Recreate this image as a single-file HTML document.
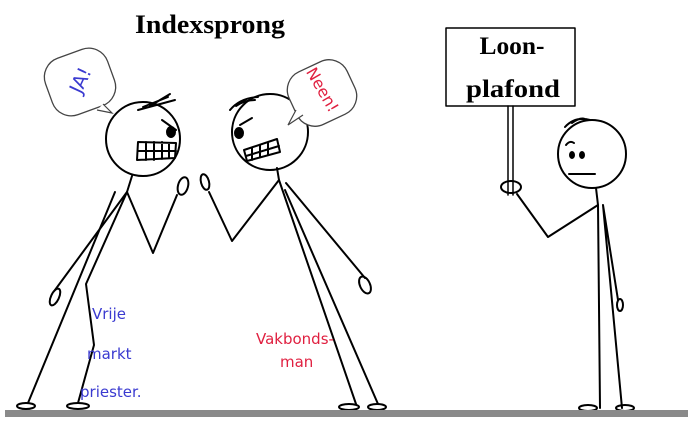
<!DOCTYPE html>
<html><head><meta charset="utf-8"><style>
html,body{margin:0;padding:0;background:#fff;}
svg{display:block;}
.t{font-family:"Liberation Serif",serif;font-weight:bold;fill:#000;}
.b{font-family:"DejaVu Sans","Liberation Sans",sans-serif;font-size:15px;fill:#3a3ad0;}
.r{font-family:"DejaVu Sans","Liberation Sans",sans-serif;font-size:15px;fill:#e02040;}
</style></head><body>
<svg width="688" height="434" viewBox="0 0 688 434" xmlns="http://www.w3.org/2000/svg">
<rect width="688" height="434" fill="#fff"/>
<text class="t" x="210" y="33" font-size="26" text-anchor="middle" textLength="150" lengthAdjust="spacingAndGlyphs">Indexsprong</text>
<g stroke="#000" stroke-width="2" fill="none" stroke-linecap="round" stroke-linejoin="round">
<circle cx="143" cy="139" r="37"/>
<path d="M138 110 L175 100 M143 107 L168 97 M150 106 L170 94"/>
<path d="M162 120 L176 130"/><ellipse cx="171" cy="132" rx="4" ry="5" fill="#000"/>
<path d="M138 142 L176 143 L175 158 L137 160 Z M138 151 L176 151 M146 142 V160 M154 142 V160 M162 142 V159 M169 143 V158"/>
<path d="M132 176 L127 192 L153 253 L177 195"/>
<ellipse cx="183" cy="186" rx="5" ry="9" transform="rotate(15 183 186)"/>
<path d="M127 192 L55 290"/>
<ellipse cx="55" cy="297" rx="4" ry="9" transform="rotate(25 55 297)"/>
<path d="M115 192 L28 403 M127 192 L86 284 L94 345 L78 403"/>
<ellipse cx="26" cy="406" rx="9" ry="3"/><ellipse cx="78" cy="406" rx="11" ry="3"/>
<circle cx="270" cy="132" r="38"/>
<path d="M230 110 Q240 98 258 97 M236 106 Q245 100 255 100"/>
<path d="M240 125 L252 118"/><ellipse cx="239" cy="133" rx="4" ry="5" fill="#000"/>
<path d="M244 150 L277 139 L280 152 L247 161 Z M246 156 L279 146 M252 148 V160 M260 145 V157 M268 142 V155"/>
<path d="M277 168 L279 180 L232 241 L209 192"/>
<ellipse cx="205" cy="182" rx="4" ry="8" transform="rotate(-15 205 182)"/>
<path d="M286 183 L365 278"/>
<ellipse cx="365" cy="285" rx="5" ry="9" transform="rotate(-25 365 285)"/>
<path d="M279 180 L356 404 M285 190 L378 404"/>
<ellipse cx="349" cy="407" rx="10" ry="3"/><ellipse cx="377" cy="407" rx="9" ry="3"/>
<circle cx="592" cy="154" r="34"/>
<path d="M565 127 Q575 116 590 120 M572 123 Q580 117 585 119"/>
<path d="M566 145 Q570 140 574 143"/>
<ellipse cx="572" cy="155" rx="2" ry="3" fill="#000"/><ellipse cx="582" cy="155" rx="2" ry="3" fill="#000"/>
<path d="M569 174 L595 174"/>
<rect x="446" y="28" width="129" height="78" stroke-width="1.5"/>
<path d="M508 106 V195 M513 106 V195" stroke-width="1.5"/>
<ellipse cx="511" cy="187" rx="10" ry="6"/>
<path d="M596 188 L598 205 L548 237 L517 194"/>
<path d="M598 205 L600 408 M603 205 L622 408 M603 205 L618 300"/>
<ellipse cx="620" cy="305" rx="3" ry="6"/>
<ellipse cx="588" cy="408" rx="9" ry="3"/><ellipse cx="625" cy="408" rx="9" ry="3"/>
</g>
<g transform="rotate(-20 80 82)">
<rect x="47" y="52" width="66" height="60" rx="20" fill="#fff" stroke="#444" stroke-width="1.3"/>
</g>
<path d="M97 110 L112 113 L103 104" fill="#fff" stroke="#444" stroke-width="1.2"/>
<g transform="rotate(-25 322 93)">
<rect x="290" y="64" width="64" height="58" rx="20" fill="#fff" stroke="#444" stroke-width="1.3"/>
</g>
<path d="M296 110 L288 125 L303 115" fill="#fff" stroke="#444" stroke-width="1.2"/>
<text class="b" x="80" y="87" style="font-size:19px" text-anchor="middle" transform="rotate(-65 80 80)">JA!</text>
<text class="r" x="322" y="95" style="font-size:16px" text-anchor="middle" transform="rotate(60 322 90)">Neen!</text>
<text class="t" x="512" y="54" font-size="25" text-anchor="middle" textLength="65" lengthAdjust="spacingAndGlyphs">Loon-</text>
<text class="t" x="513" y="97" font-size="25" text-anchor="middle" textLength="94" lengthAdjust="spacingAndGlyphs">plafond</text>
<text class="b" x="92" y="319">Vrije</text>
<text class="b" x="87" y="359">markt</text>
<text class="b" x="80" y="397">priester.</text>
<text class="r" x="256" y="344">Vakbonds-</text>
<text class="r" x="280" y="367">man</text>
<rect x="5" y="410" width="683" height="7" fill="#8a8a8a"/>
</svg>
</body></html>
